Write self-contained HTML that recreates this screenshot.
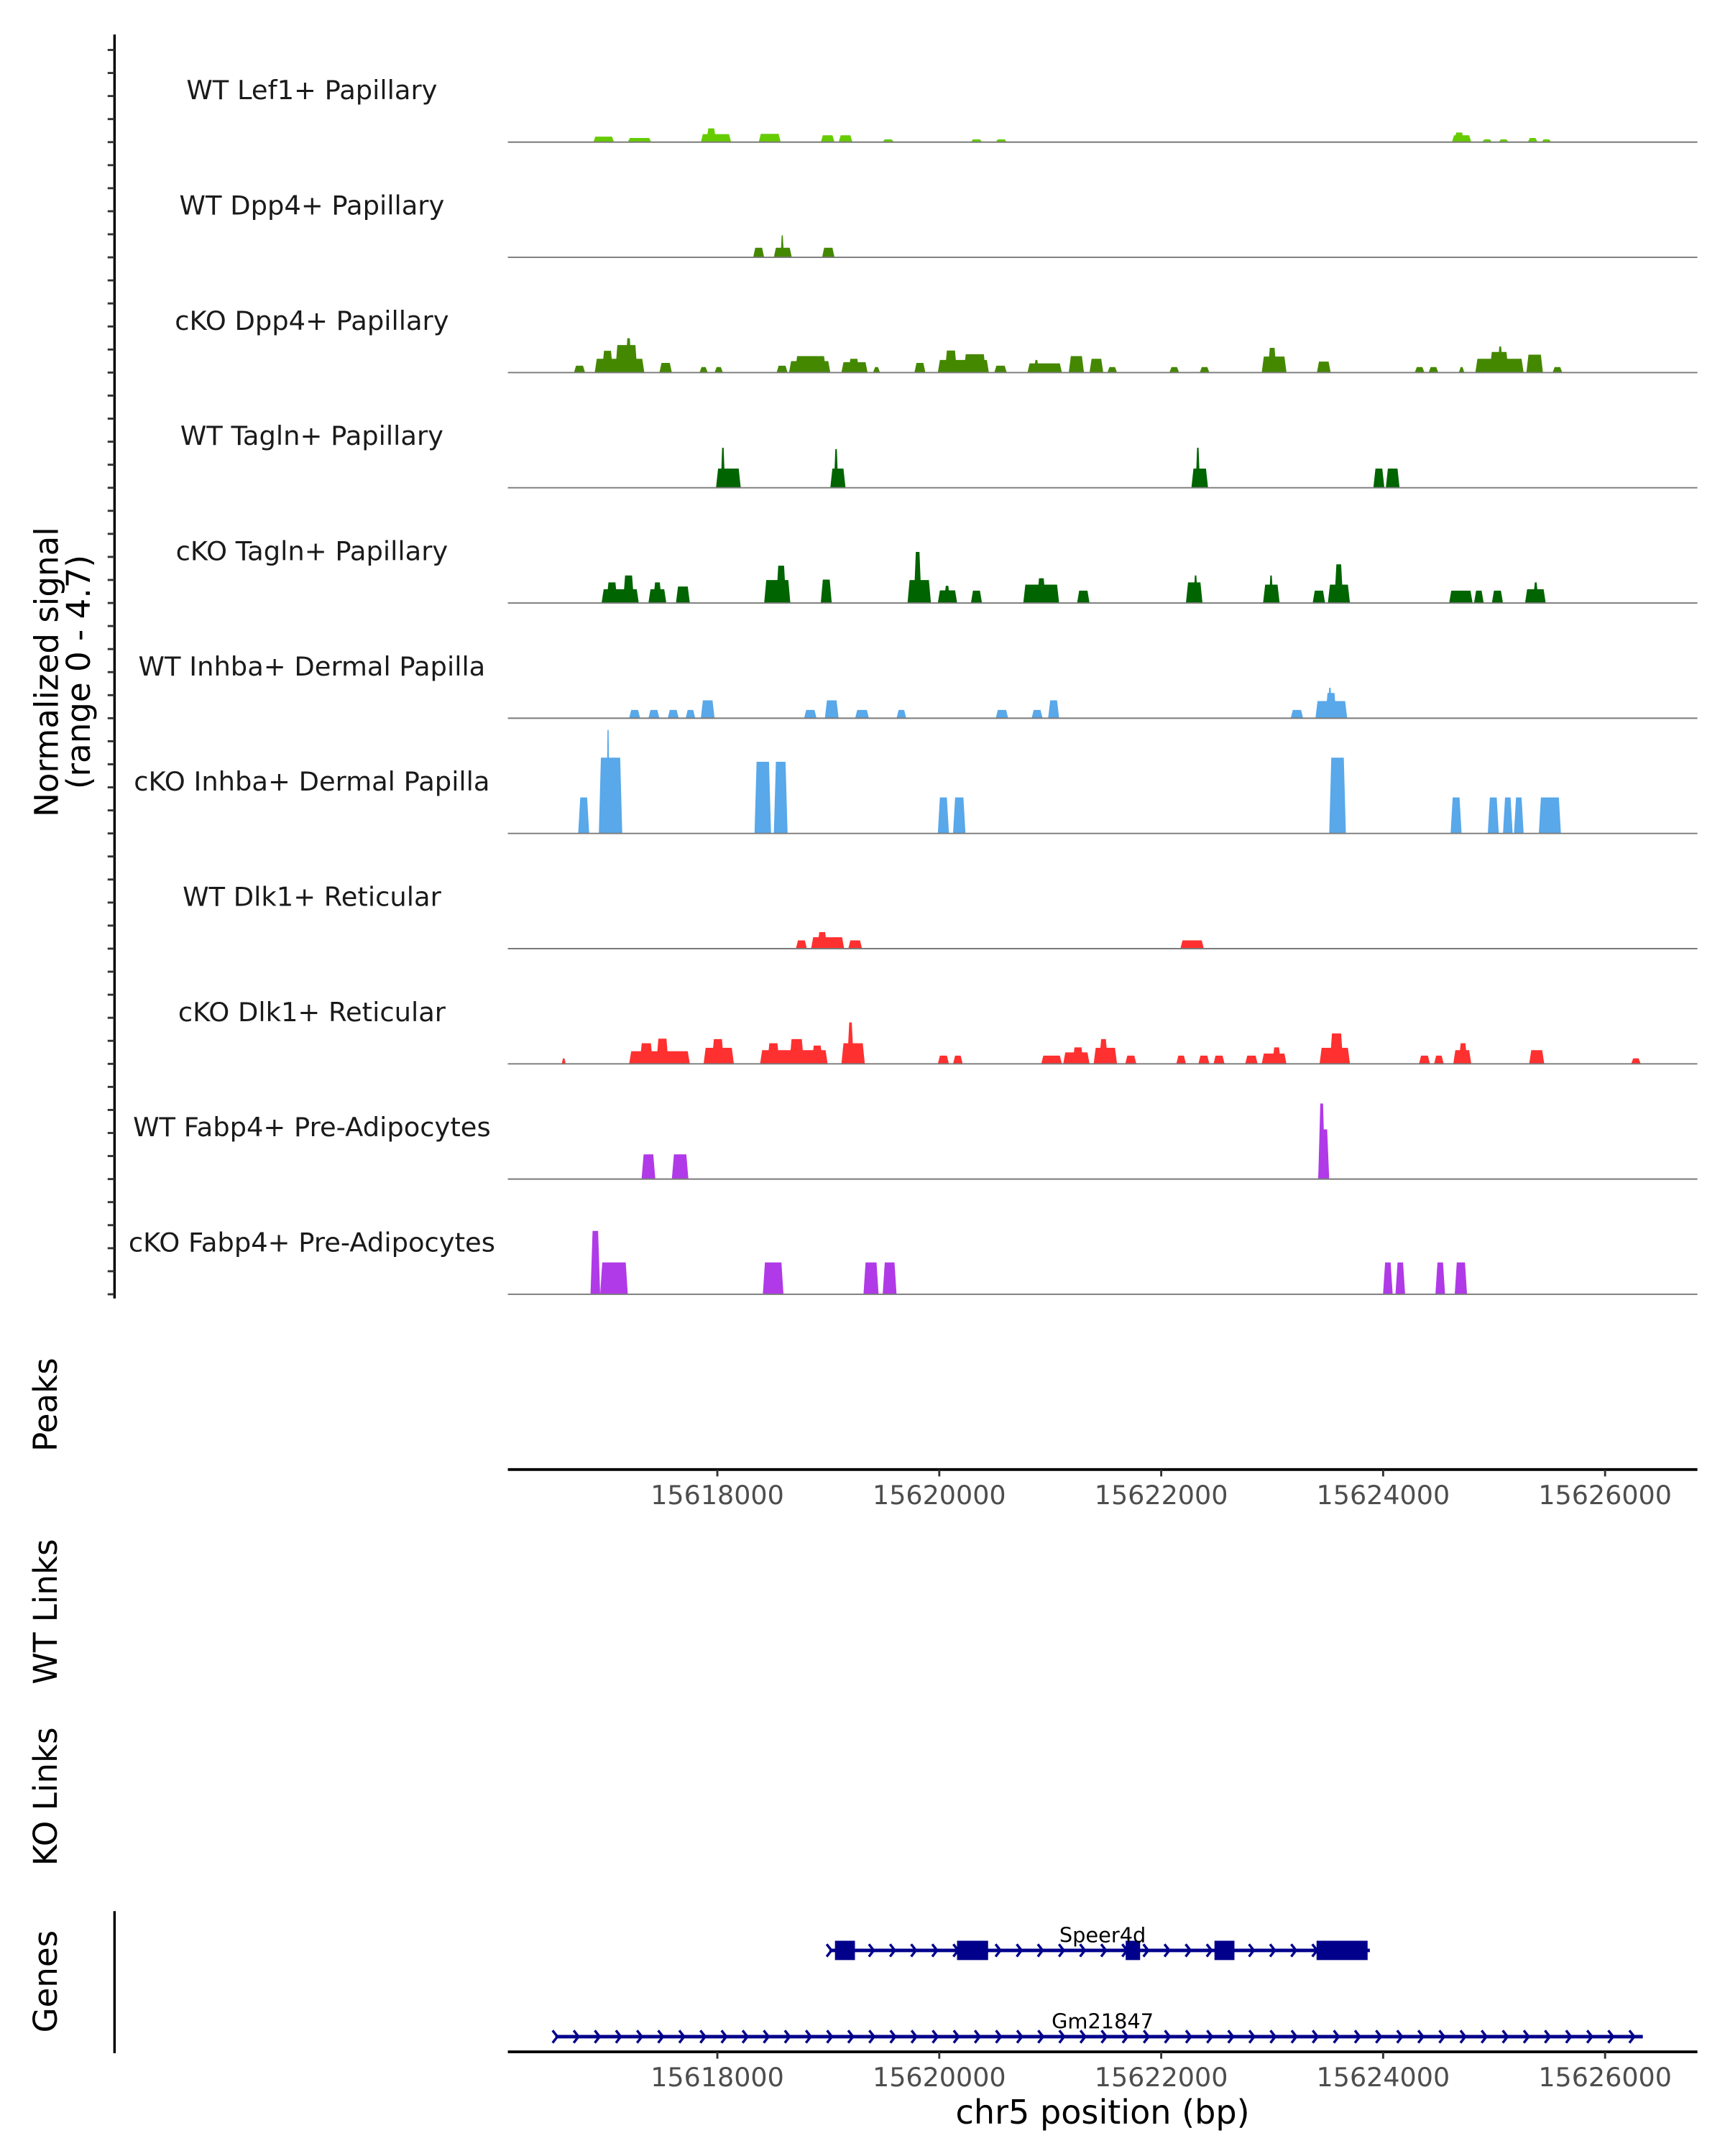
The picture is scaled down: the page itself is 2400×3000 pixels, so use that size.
<!DOCTYPE html>
<html><head><meta charset="utf-8"><style>
html,body{margin:0;padding:0;background:#fff;}
svg{display:block;}
text{font-family:"DejaVu Sans","Liberation Sans",sans-serif;}
</style></head>
<body>
<svg id="chart" xmlns="http://www.w3.org/2000/svg" width="2400" height="3000" viewBox="0 0 1250 1562.5">
<rect x="0" y="0" width="1250" height="1562.5" fill="#fff"/>
<g id="tracks"></g>
<g id="axes"></g>
<g id="genes"></g>
</svg>
<script>
// ---- data ----
const trackNames = ["WT Lef1+ Papillary","WT Dpp4+ Papillary","cKO Dpp4+ Papillary","WT Tagln+ Papillary","cKO Tagln+ Papillary","WT Inhba+ Dermal Papilla","cKO Inhba+ Dermal Papilla","WT Dlk1+ Reticular","cKO Dlk1+ Reticular","WT Fabp4+ Pre-Adipocytes","cKO Fabp4+ Pre-Adipocytes"];
const trackColors = ["#66cc00","#448800","#448800","#006400","#006400","#58a8ea","#58a8ea","#ff3030","#ff3030","#b03ae8","#b03ae8"];
// peaks per track: [start bp, end bp, signal]
const lef1WT = [[15616882,15617069,0.24],[15617193,15617404,0.18],[15617851,15618124,0.35],[15617900,15617990,0.6],[15618373,15618571,0.36],[15618932,15619056,0.3],[15619093,15619217,0.3],[15619490,15619590,0.12],[15620285,15620385,0.12],[15620509,15620608,0.12],[15624620,15624794,0.3],[15624640,15624730,0.42],[15624893,15624980,0.12],[15625042,15625129,0.12],[15625304,15625391,0.18],[15625428,15625515,0.12]];
const dpp4WT = [[15618323,15618422,0.42],[15618509,15618671,0.42],[15618570,15618600,0.96],[15618944,15619056,0.42]];
const dpp4KO = [[15616708,15616808,0.3],[15616895,15617342,0.6],[15616960,15617060,0.95],[15617080,15617280,1.2],[15617170,15617230,1.5],[15617478,15617590,0.42],[15617839,15617913,0.24],[15617975,15618050,0.24],[15618534,15618633,0.3],[15618646,15619018,0.5],[15618700,15618980,0.72],[15619118,15619354,0.45],[15619180,15619280,0.6],[15619403,15619466,0.24],[15619776,15619875,0.42],[15619987,15620447,0.55],[15620050,15620160,0.96],[15620220,15620420,0.8],[15620496,15620608,0.3],[15620795,15621105,0.4],[15620850,15620900,0.55],[15621167,15621304,0.72],[15621354,15621478,0.6],[15621515,15621602,0.24],[15622074,15622161,0.24],[15622347,15622434,0.24],[15622906,15623129,0.7],[15622960,15623040,1.08],[15623403,15623527,0.48],[15624285,15624372,0.24],[15624410,15624497,0.24],[15624682,15624732,0.24],[15624831,15625266,0.6],[15624960,15625130,0.9],[15625030,15625080,1.14],[15625291,15625440,0.78],[15625527,15625614,0.24]];
const taglnWT = [[15617988,15618211,0.84],[15618030,15618070,1.75],[15619018,15619155,0.84],[15619050,15619090,1.69],[15622272,15622422,0.84],[15622310,15622350,1.75],[15623912,15624011,0.84],[15624024,15624148,0.84]];
const taglnKO = [[15616957,15617292,0.6],[15617000,15617100,0.9],[15617150,15617250,1.2],[15617379,15617540,0.6],[15617420,15617500,0.9],[15617627,15617752,0.72],[15618422,15618658,1.0],[15618530,15618620,1.63],[15618932,15619031,1.02],[15619714,15619925,1.0],[15619770,15619840,2.23],[15619987,15620161,0.55],[15620040,15620100,0.75],[15620285,15620385,0.54],[15620757,15621080,0.8],[15620880,15620960,1.08],[15621242,15621354,0.54],[15622223,15622372,0.9],[15622290,15622330,1.2],[15622918,15623067,0.8],[15622970,15623010,1.2],[15623365,15623477,0.54],[15623502,15623701,0.8],[15623560,15623640,1.69],[15624595,15624806,0.54],[15624819,15624906,0.54],[15624980,15625080,0.54],[15625279,15625465,0.6],[15625350,15625400,0.9]];
const inhbaWT = [[15617205,15617304,0.36],[15617379,15617478,0.36],[15617553,15617652,0.36],[15617714,15617801,0.36],[15617851,15617975,0.78],[15618782,15618894,0.36],[15618969,15619093,0.78],[15619242,15619366,0.36],[15619615,15619702,0.36],[15620509,15620621,0.36],[15620832,15620931,0.36],[15620981,15621080,0.78],[15623167,15623279,0.36],[15623390,15623676,0.75],[15623480,15623580,1.1],[15623500,15623540,1.33]];
const inhbaKO = [[15616746,15616845,1.57],[15616932,15617143,3.31],[15617000,15617030,4.52],[15618335,15618484,3.13],[15618509,15618633,3.13],[15619987,15620087,1.57],[15620124,15620236,1.57],[15623514,15623664,3.31],[15624608,15624707,1.57],[15624943,15625042,1.57],[15625080,15625167,1.57],[15625179,15625266,1.57],[15625403,15625602,1.57]];
const dlk1WT = [[15618708,15618807,0.36],[15618845,15619143,0.5],[15618900,15618990,0.72],[15619180,15619304,0.36],[15622173,15622384,0.36]];
const dlk1KO = [[15616597,15616634,0.24],[15617205,15617752,0.55],[15617300,15617420,0.9],[15617450,15617560,1.1],[15617876,15618149,0.7],[15617950,15618060,1.08],[15618385,15618994,0.6],[15618450,15618560,0.9],[15618650,15618780,1.08],[15618850,15618950,0.8],[15619118,15619329,0.9],[15619170,15619230,1.81],[15619987,15620087,0.36],[15620124,15620211,0.36],[15620919,15621105,0.36],[15621117,15621354,0.5],[15621200,15621300,0.72],[15621391,15621602,0.7],[15621440,15621520,1.08],[15621676,15621776,0.36],[15622136,15622223,0.36],[15622335,15622434,0.36],[15622471,15622571,0.36],[15622757,15622869,0.36],[15622906,15623129,0.45],[15623000,15623080,0.72],[15623427,15623701,0.7],[15623520,15623640,1.33],[15624323,15624422,0.36],[15624459,15624546,0.36],[15624632,15624794,0.6],[15624680,15624760,0.9],[15625316,15625452,0.6],[15626235,15626321,0.24]];
const fabp4WT = [[15617317,15617441,1.08],[15617590,15617739,1.08],[15623415,15623514,2.17],[15623415,15623477,3.3]];
const fabp4KO = [[15616857,15616944,2.77],[15616944,15617193,1.39],[15618410,15618596,1.39],[15619317,15619453,1.39],[15619490,15619615,1.39],[15623999,15624086,1.39],[15624111,15624198,1.39],[15624471,15624558,1.39],[15624645,15624756,1.39]];
const trackData = [lef1WT,dpp4WT,dpp4KO,taglnWT,taglnKO,inhbaWT,inhbaKO,dlk1WT,dlk1KO,fabp4WT,fabp4KO];
const xTicks = [15618000,15620000,15622000,15624000,15626000];
const speer4dExons = [[15619060,15619240],[15620160,15620440],[15621680,15621810],[15622480,15622660],[15623400,15623860]];
const speer4dSpan = [15619010,15623880];
const gm21847Span = [15616540,15626340];
// ---- scales ----
const X0 = 368, X1 = 1230, BP0 = 15616112, BP1 = 15626832;
const NS = "http://www.w3.org/2000/svg";
function xs(bp){ return X0 + (bp-BP0)/(BP1-BP0)*(X1-X0); }
const MAXSIG = 4.7, TRACK_H = 78;
function ys(v, base){ return base - v/MAXSIG*TRACK_H; }
function baseY(i){ return 103 + i*83.5; }
function mk(tag, attrs, parent){ const e=document.createElementNS(NS,tag); for(const k in attrs) e.setAttribute(k,attrs[k]); parent.appendChild(e); return e; }
const gT = document.getElementById('tracks');
const gA = document.getElementById('axes');
const gG = document.getElementById('genes');
// ---- tracks ----
trackData.forEach((peaks, i) => {
  const b = baseY(i);
  const g = mk('g', {}, gT);
  
  
  const lab = mk('text', {x:226, y:b-31, 'text-anchor':'middle', 'font-size':19.2, fill:'#1a1a1a'}, g);
  lab.textContent = trackNames[i];
  
  
  peaks.forEach(p => {
    const xa = xs(p[0]), xb = xs(p[1]), yt = ys(p[2], b);
    const s = Math.min(1.5, (xb-xa)/3);
    const poly = mk('polygon', {points:`${xa},${b} ${xa+s},${yt} ${xb-s},${yt} ${xb},${b}`, fill:trackColors[i]}, g);
    
    
  });
  const bl = mk('line', {x1:X0, x2:X1, y1:b, y2:b, stroke:'#7a7a7a', 'stroke-width':1}, g);
  
  
});
// ---- left axis ----
const ax = mk('line', {x1:83, x2:83, y1:25, y2:941, stroke:'#000', 'stroke-width':1.8}, gA);


for (let i=0;i<11;i++){ for(let k=0;k<5;k++){ const y=baseY(i)-k*16.7;
  const t = mk('line', {x1:78, x2:83, y1:y, y2:y, stroke:'#333', 'stroke-width':1.5}, gA);
  
  
}}
const yt = mk('text', {transform:'translate(42,487) rotate(-90)', 'text-anchor':'middle', 'font-size':23.5, fill:'#000'}, gA);


const t1 = mk('tspan', {x:0, y:0}, yt); t1.textContent = 'Normalized signal';
const t2 = mk('tspan', {x:0, y:23}, yt); t2.textContent = '(range 0 - 4.7)';
function sideLabel(txt, cy, name){ const e = mk('text', {transform:`translate(35,${cy}) rotate(-90)`, 'text-anchor':'middle', 'font-size':23.5, fill:'#000', 'dominant-baseline':'middle'}, gA);
  e.textContent = txt;
  
   }
sideLabel('Peaks', 1018, 'peaks-label');
sideLabel('WT Links', 1168, 'wt-links-label');
sideLabel('KO Links', 1302, 'ko-links-label');
sideLabel('Genes', 1436, 'genes-label');
const gl = mk('line', {x1:83, x2:83, y1:1385, y2:1488, stroke:'#000', 'stroke-width':1.8}, gA);


// ---- x axes ----
function xAxis(y, name){
  const l = mk('line', {x1:X0, x2:X1, y1:y, y2:y, stroke:'#000', 'stroke-width':2}, gA);
  
  
  xTicks.forEach(v => {
    const tk = mk('line', {x1:xs(v), x2:xs(v), y1:y, y2:y+5, stroke:'#333', 'stroke-width':1.5}, gA);
    
    
    const tl = mk('text', {x:xs(v), y:y+25, 'text-anchor':'middle', 'font-size':19, fill:'#4d4d4d'}, gA);
    tl.textContent = v;
    
    
  });
}
xAxis(1065, 'peaks-x-axis');
xAxis(1487, 'genes-x-axis');
const xt = mk('text', {x:799, y:1539, 'text-anchor':'middle', 'font-size':24, fill:'#000'}, gA);
xt.textContent = 'chr5 position (bp)';


// ---- genes ----
function gene(span, y, label, exons, name){
  const g = mk('g', {}, gG);
  
  
  mk('line', {x1:xs(span[0]), x2:xs(span[1]), y1:y, y2:y, stroke:'#00008b', 'stroke-width':2.5}, g);
  for (let x = xs(span[0]); x <= xs(span[1])+0.5; x += 15.3) {
    mk('polyline', {points:`${x-2},${y-4.5} ${x+1.5},${y} ${x-2},${y+4.5}`, fill:'none', stroke:'#00008b', 'stroke-width':1.8}, g);
  }
  exons.forEach(e => {
    const r = mk('rect', {x:xs(e[0]), y:y-7, width:xs(e[1])-xs(e[0]), height:14, fill:'#00008b'}, g);
    
    
  });
  const t = mk('text', {x:799, y:y-6, 'text-anchor':'middle', 'font-size':15, fill:'#000'}, g);
  t.textContent = label;
  
  
}
gene(speer4dSpan, 1413.5, 'Speer4d', speer4dExons, 'gene-speer4d');
gene(gm21847Span, 1476, 'Gm21847', [], 'gene-gm21847');
</script>
</body></html>
